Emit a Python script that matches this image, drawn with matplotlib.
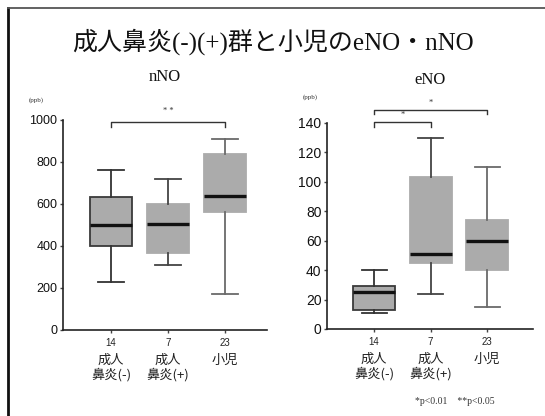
import matplotlib
matplotlib.use("Agg")
import matplotlib.pyplot as plt
from matplotlib.lines import Line2D

# Group labels and sample sizes
groups = ["成人\n鼻炎(-)", "成人\n鼻炎(+)", "小児"]
counts = ["14", "7", "23"]

# nNO (ppb): lower whisker, Q1, median, Q3, upper whisker
nno_low = [230, 310, 170]
nno_q1 = [400, 365, 560]
nno_med = [500, 505, 640]
nno_q3 = [635, 600, 840]
nno_high = [760, 720, 910]

# eNO (ppb)
eno_low = [11, 24, 15]
eno_q1 = [13, 45, 40]
eno_med = [25, 51, 60]
eno_q3 = [29, 103, 74]
eno_high = [40, 130, 110]

W, H = 545, 416
fig = plt.figure(figsize=(W / 100, H / 100), dpi=100)
fig.patch.set_facecolor("white")

SERIF = ["Liberation Serif", "Noto Sans CJK JP"]
SANS = ["Liberation Sans", "Noto Sans CJK JP"]
CJK = ["Noto Sans CJK JP", "DejaVu Sans"]

# slide frame
fig.add_artist(Line2D([8 / W, 8 / W], [0, 1 - 8 / H], color="#111111", lw=2.0))
fig.add_artist(Line2D([8 / W, 1], [1 - 8 / H, 1 - 8 / H], color="#555555", lw=1.3))

fig.text(0.5, 1 - 42 / H, "成人鼻炎(-)(+)群と小児のeNO・nNO", ha="center", va="center",
         fontsize=18, family=SERIF, color="#111111")

face = "#ababab"
edge_colors = ["#3a3a3a", face, face]
whisk_colors = ["#333333", "#444444", "#6a6a6a"]


def make_stats(low, q1, med, q3, high):
    return [dict(whislo=a, q1=b, med=c, q3=d, whishi=e, fliers=[])
            for a, b, c, d, e in zip(low, q1, med, q3, high)]


def draw_panel(rect, stats, ymax, yticks, xlim, width, title, tick_fs, ppb_dx, ppb_dy):
    ax = fig.add_axes(rect)
    res = ax.bxp(stats, positions=[1, 2, 3], widths=width, patch_artist=True,
                 showfliers=False, capwidths=width * 0.6,
                 medianprops=dict(color="#111111", lw=2.4),
                 boxprops=dict(lw=1.3))
    for i, b in enumerate(res["boxes"]):
        b.set_facecolor(face)
        b.set_edgecolor(edge_colors[i])
    for i in range(3):
        for ln in res["whiskers"][2 * i:2 * i + 2] + res["caps"][2 * i:2 * i + 2]:
            ln.set_color(whisk_colors[i])
            ln.set_linewidth(1.3)
    ax.set_xlim(*xlim)
    ax.set_ylim(0, ymax)
    ax.set_yticks(yticks)
    ax.set_yticklabels([str(t) for t in yticks], family=SANS, fontsize=tick_fs, color="#111111")
    ax.set_xticks([1, 2, 3])
    ax.set_xticklabels(counts, family=SANS, fontsize=7, color="#222222")
    for s in ("top", "right"):
        ax.spines[s].set_visible(False)
    for s in ("left", "bottom"):
        ax.spines[s].set_linewidth(1.2)
        ax.spines[s].set_color("#222222")
    ax.tick_params(axis="both", length=2, width=1, color="#444444", pad=2)
    ax.tick_params(axis="x", pad=4)
    xform = ax.get_xaxis_transform()
    for x, g in zip([1, 2, 3], groups):
        ax.annotate(g, xy=(x, 0), xycoords=xform, xytext=(0, -24),
                    textcoords="offset pixels", ha="center", va="top",
                    fontsize=9.5, family=CJK, color="#222222", linespacing=1.1)
    ax.annotate(title, xy=(0.5, 1), xycoords="axes fraction", xytext=(0, 43),
                textcoords="offset pixels", ha="center", va="center",
                fontsize=12, family=SERIF, color="#111111")
    ax.annotate("(ppb)", xy=(0, 1), xycoords="axes fraction", xytext=(ppb_dx, ppb_dy),
                textcoords="offset pixels", ha="center", va="center",
                fontsize=5, family=SERIF, color="#333333")
    return ax


def bracket(ax, x1, x2, y, drop, label, label_y):
    ax.plot([x1, x1, x2, x2], [y - drop, y, y, y - drop], color="#333333", lw=1.0,
            clip_on=False)
    ax.text((x1 + x2) / 2, label_y, label, ha="center", va="center", fontsize=6,
            family=SERIF, color="#333333", clip_on=False)


axl = draw_panel([63 / W, 1 - 330 / H, 204 / W, 210 / H],
                 make_stats(nno_low, nno_q1, nno_med, nno_q3, nno_high),
                 1000, [0, 200, 400, 600, 800, 1000], (0.158, 3.737), 0.75, "nNO", 9,
                 -27, 20)
bracket(axl, 1, 3, 990, 25, "* *", 1045)

axr = draw_panel([327 / W, 1 - 329 / H, 206 / W, 206 / H],
                 make_stats(eno_low, eno_q1, eno_med, eno_q3, eno_high),
                 140, [0, 20, 40, 60, 80, 100, 120, 140], (0.168, 3.81), 0.74, "eNO", 10,
                 -17, 26)
bracket(axr, 1, 2, 140.7, 3.5, "*", 145.3)
bracket(axr, 1, 3, 148.8, 2.5, "*", 154)

fig.text(415 / W, 1 - 402 / H, "*p<0.01    **p<0.05", ha="left", va="center",
         fontsize=7, family=SERIF, color="#333333")

fig.savefig("out.png", dpi=100, facecolor="white")
